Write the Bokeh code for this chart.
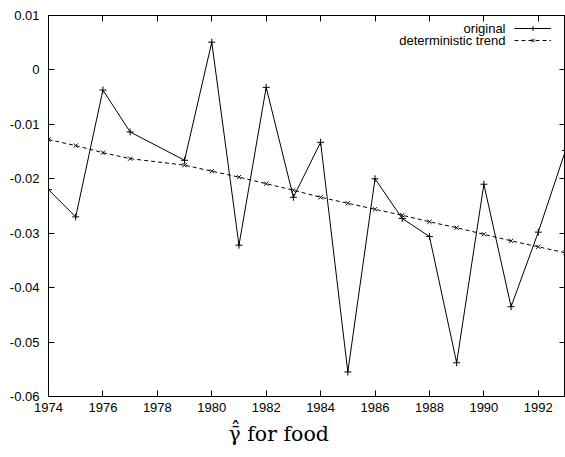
from bokeh.plotting import figure
from bokeh.models import (Range1d, FixedTicker, LinearAxis, CustomJSTickFormatter,
                          Legend, LegendItem, Title, Label)
from bokeh.embed import file_html
from bokeh.resources import INLINE

years = [1974, 1975, 1976, 1977, 1979, 1980, 1981, 1982, 1983, 1984,
         1985, 1986, 1987, 1988, 1989, 1990, 1991, 1992, 1993]
original = [-0.0220, -0.0270, -0.0037, -0.0114, -0.0166, 0.0051, -0.0322, -0.0032,
            -0.0234, -0.0133, -0.0555, -0.0200, -0.0273, -0.0306, -0.0538, -0.0210,
            -0.0435, -0.0298, -0.0148]
trend = [-0.0128, -0.0139, -0.0152, -0.0163, -0.0175, -0.0186, -0.0197, -0.0209,
         -0.0221, -0.0234, -0.0245, -0.0256, -0.0267, -0.0279, -0.0290, -0.0302,
         -0.0314, -0.0325, -0.0336]
x_ticks = [1974, 1976, 1978, 1980, 1982, 1984, 1986, 1988, 1990, 1992]
y_ticks = [-0.06, -0.05, -0.04, -0.03, -0.02, -0.01, 0.0, 0.01]
series_names = ["original", "deterministic trend"]
x_label = "\u03b3\u0304\u0302 for food"

FONT = "Liberation Sans"
FS = "13px"

p = figure(width=565, height=457, output_backend="svg", toolbar_location=None,
           x_range=Range1d(1974, 1993), y_range=Range1d(-0.06, 0.01),
           min_border_left=48, min_border_right=0, min_border_top=15, min_border_bottom=61)
p.grid.visible = False
p.outline_line_color = "black"
p.outline_line_width = 1
p.background_fill_color = "white"
p.border_fill_color = "white"

fmt = CustomJSTickFormatter(code="return Math.abs(tick) < 1e-9 ? '0' : tick.toFixed(2);")
blank = CustomJSTickFormatter(code="return '';")

for ax in p.xaxis:
    ax.ticker = FixedTicker(ticks=x_ticks)
for ax in p.yaxis:
    ax.ticker = FixedTicker(ticks=y_ticks)
    ax.formatter = fmt
for ax in p.xaxis + p.yaxis:
    ax.major_tick_in = 6
    ax.major_tick_out = 0
    ax.minor_tick_line_color = None
    ax.axis_line_color = "black"
    ax.major_tick_line_color = "black"
    ax.major_label_text_font = FONT
    ax.major_label_text_font_size = FS
    ax.major_label_text_color = "black"
p.xaxis.major_label_standoff = 6
p.yaxis.major_label_standoff = 9

top = LinearAxis(ticker=FixedTicker(ticks=x_ticks), formatter=blank,
                 major_tick_in=6, major_tick_out=0, minor_tick_line_color=None,
                 major_label_standoff=0)
right = LinearAxis(ticker=FixedTicker(ticks=y_ticks), formatter=blank,
                   major_tick_in=6, major_tick_out=0, minor_tick_line_color=None,
                   major_label_standoff=0)
p.add_layout(top, "above")
p.add_layout(right, "right")

l1 = p.line(years, original, line_color="black", line_width=1)
s1 = p.scatter(years, original, marker="cross", size=7, line_color="black", line_width=1)
l2 = p.line(years, trend, line_color="black", line_width=1, line_dash="4 3")
s2 = p.scatter(years, trend, marker="x", size=6, line_color="black", line_width=1)

# gnuplot-style key: label text on the left, line sample on the right
legend = Legend(items=[LegendItem(label=" ", renderers=[l1, s1]),
                       LegendItem(label=" ", renderers=[l2, s2])],
                location="top_right", border_line_color=None, background_fill_alpha=0,
                label_text_font=FONT, label_text_font_size=FS, glyph_width=37,
                glyph_height=12, label_height=12, label_width=7, label_standoff=0,
                spacing=0, padding=0, margin=7)
p.add_layout(legend)
for i, name in enumerate(series_names):
    p.add_layout(Label(x=457, y=368 - 12 * i, x_units="screen", y_units="screen",
                       text=name, text_align="right", text_baseline="middle",
                       text_font=FONT, text_font_size=FS, text_color="black"))

title = Title(text=x_label, align="left", offset=180, text_font="DejaVu Serif",
              text_font_size="20.5px", text_font_style="normal", text_color="black",
              standoff=10)
p.add_layout(title, "below")

open("out.html", "w").write(file_html(p, INLINE))
